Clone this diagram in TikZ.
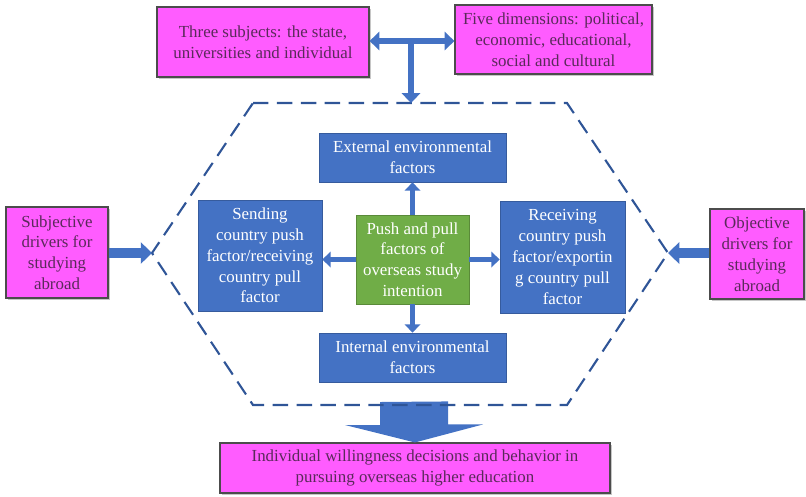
\documentclass[tikz,border=0pt]{standalone}
\usepackage{fontspec}
\setmainfont{Liberation Serif}
\usetikzlibrary{arrows.meta,shadows}

\definecolor{magfill}{HTML}{FF5CFF}
\definecolor{magtext}{HTML}{5A2A5A}
\definecolor{boxblue}{HTML}{4472C4}
\definecolor{boxgreen}{HTML}{70AD47}
\definecolor{linkblue}{HTML}{4472C4}
\definecolor{hexblue}{HTML}{2F5597}

\tikzset{
  driver/.style={draw=black!70, line width=0.8pt, fill=magfill, text=magtext, align=center,
    font=\fontsize{12}{14.8}\selectfont, inner sep=1pt,
    drop shadow={shadow xshift=1.5pt, shadow yshift=-1.5pt, opacity=0.45}},
  factor/.style={fill=boxblue, draw=boxblue!80!black, line width=0.4pt, text=white, align=center,
    font=\fontsize{12}{14.8}\selectfont, inner sep=1pt},
  core/.style={factor, fill=boxgreen, draw=boxgreen!80!black},
  link/.style={linkblue, line width=3.5pt, -{Triangle[width=11pt,length=6pt]}},
  biglink/.style={linkblue, line width=4.3pt, -{Triangle[width=13pt,length=7pt]}},
  sidelink/.style={linkblue, line width=7pt, -{Triangle[width=15pt,length=8pt]}},
}

\begin{document}
\begin{tikzpicture}[x=0.025cm, y=-0.025cm]
\useasboundingbox (0,0) rectangle (806,496);

%caixas de cima
\node[driver, minimum width=5.3cm, minimum height=1.75cm] (subj) at (263,42)
  {Three subjects: the state,\\universities and individual};
\node[driver, minimum width=4.925cm, minimum height=1.725cm] (dims) at (553.5,39.5)
  {Five dimensions: political,\\economic, educational,\\social and cultural};

%hexagono
\coordinate (h1) at (253,103);
\coordinate (h2) at (567,103);
\coordinate (h3) at (668,253);
\coordinate (h4) at (567,405);
\coordinate (h5) at (253,405);
\coordinate (h6) at (152,253);
\coordinate (htop) at (411,103);
\coordinate (hbot) at (413,402);
\coordinate (tee) at (411,41);

%seta grande para baixo
\node[driver, minimum width=9.75cm, minimum height=1.25cm] (goal) at (415,468)
  {Individual willingness decisions and behavior in\\pursuing overseas higher education};
\fill[linkblue] (hbot) ++(-33,0) -- ++(0,23) -- ++(-35,0) -- (goal.north)
  -- ++(68,-18) -- ++(-35,0) -- ++(0,-23) -- cycle;

\draw[hexblue, line width=1.5pt, dash pattern=on 11pt off 6pt]
  (h1) -- (h2) -- (h3) -- (h4) -- (h5) -- (h6) -- cycle;

%laterais
\node[driver, minimum width=2.55cm, minimum height=2.275cm] (subjd) at (57,252.5)
  {Subjective\\drivers for\\studying\\abroad};
\node[driver, minimum width=2.35cm, minimum height=2.25cm] (objd) at (757,254)
  {Objective\\drivers for\\studying\\abroad};

%fatores
\node[core, minimum width=2.825cm, minimum height=2.225cm] (push) at (412.5,259.5)
  {Push and pull\\factors of\\overseas study\\intention};
\node[factor, minimum width=4.675cm, minimum height=1.225cm] (ext) at (412.5,157.5)
  {External environmental\\factors};
\node[factor, minimum width=4.675cm, minimum height=1.225cm] (int) at (412.5,357.5)
  {Internal environmental\\factors};
\node[factor, minimum width=3.1cm, minimum height=2.775cm] (send) at (260,255.5)
  {Sending\\country push\\factor/receiving\\country pull\\factor};
\node[factor, minimum width=3.125cm, minimum height=2.8cm] (recv) at (562.5,257)
  {Receiving\\country push\\factor/exportin\\g country pull\\factor};

%setas
\draw[biglink, {Triangle[width=13pt,length=7pt]}-{Triangle[width=13pt,length=7pt]}]
  (subj.east |- tee) -- (dims.west |- tee);
\draw[biglink] (tee) -- (htop);
\draw[sidelink] (subjd.east |- h6) -- (h6);
\draw[sidelink] (objd.west |- h3) -- (h3);

\draw[link] (push.north) -- (ext.south);
\draw[link] (push.south) -- (int.north);
\draw[link] (push.west) -- (send.east |- push.west);
\draw[link] (push.east) -- (recv.west |- push.east);

\end{tikzpicture}
\end{document}
